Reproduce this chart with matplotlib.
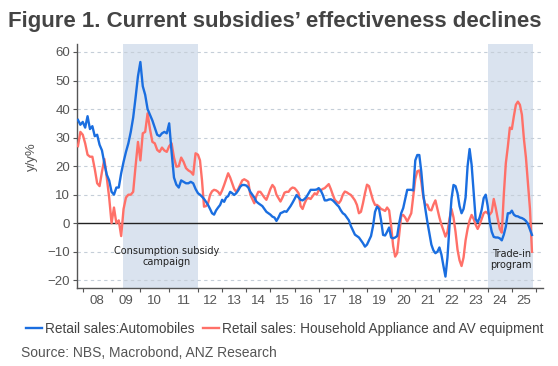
import matplotlib
matplotlib.use('Agg')
import matplotlib.pyplot as plt
import numpy as np
import pandas as pd

# monthly y/y %, Nov 2007 .. Nov 2025
auto_yoy = (
    [36.2, 34.5]
    + [35.5, 33.5, 37.5, 33, 34, 30.5, 31, 27.5, 25.5, 21, 17, 15]          # 2008
    + [11, 10, 12.5, 12.5, 17.5, 21.5, 25, 28, 32, 37, 44, 51.5]            # 2009
    + [56.5, 48, 45, 40, 38, 36, 33.5, 31, 30.5, 31.5, 32, 31.5]            # 2010
    + [35, 25, 16, 13.5, 12.5, 15, 14.5, 14, 14, 14.5, 14, 12]              # 2011
    + [10.5, 10, 9.3, 8.5, 7.5, 6.4, 5, 3.5, 3, 4.5, 5.5, 6.4]              # 2012
    + [8.2, 7.5, 9, 9.5, 11, 10.5, 9.9, 10.5, 11.5, 12.8, 13.4, 13.4]       # 2013
    + [13.2, 12.5, 11, 10, 9, 7.6, 7, 6.5, 6, 5, 4, 3.5]                    # 2014
    + [3, 2.3, 2, 0.8, 2, 3.5, 3.8, 4.2, 4, 5, 6, 7.2]                      # 2015
    + [8.5, 9.9, 9, 8.2, 8, 8.5, 9.3, 10.5, 11.7, 11.7, 11.7, 11.8]         # 2016
    + [12.3, 11.5, 10, 8, 8, 8.3, 8.4, 8, 7.3, 6.5, 5.8, 4.5]               # 2017
    + [3.5, 3, 2, 1, -1, -2.5, -4, -4.5, -5, -6, -7, -8.2]                  # 2018
    + [-7.5, -6, -4.5, -1, 4, 5.8, 5, 1, -4.1, -4.3, -3, -1.5]              # 2019
    + [-5, -5.3, -5, -4.5, 0, 3.5, 5.3, 8.5, 11.7, 11.7, 11.7, 11.5]        # 2020
    + [22, 23.9, 23.9, 18, 10, 5, 0.5, -3.5, -7.5, -9.5, -10.5, -10]        # 2021
    + [-8.5, -11, -15, -18.7, -12, -1, 8.5, 13.4, 13, 10.5, 6, 3.5]         # 2022
    + [5, 9, 20, 26, 20.5, 11, 1.5, 0.3, 2, 4.7, 8.8, 10]                   # 2023
    + [6, 0.5, -3, -4.8, -5, -5, -5.3, -6, -4, -1.2, 3.5, 3.5]              # 2024
    + [4.4, 3, 2.5, 2.4, 2, 1.8, 1.4, 0.8, -0.3, -2.2, -4.1]                # 2025
)

appliance_yoy = (
    [27, 32]
    + [31, 28, 24, 23.3, 23.3, 19, 14, 13, 18, 22.5, 16, 9]                 # 2008
    + [0, 5.5, 0, 1, -4.5, 5, 9, 10, 10, 11, 20, 28.5]                      # 2009
    + [22, 31.5, 32, 38.5, 33, 28.5, 28, 25.7, 25, 26.5, 25.5, 25]          # 2010
    + [27, 28, 23, 19.8, 20, 23, 21.5, 19.3, 18.5, 18, 17, 24.5]            # 2011
    + [24, 22, 15, 5.8, 6, 7, 9.9, 11.2, 11.7, 11.5, 11, 10]                # 2012
    + [11.5, 13.4, 15.5, 17.5, 16, 14, 12, 11, 12, 13.5, 15, 15.4]          # 2013
    + [15, 14.5, 10, 8.5, 7, 9.5, 11, 11, 10, 9, 8.2, 10]                   # 2014
    + [12, 13.4, 12.5, 10, 8.8, 7.6, 9, 10.7, 11, 11, 12, 12.5]             # 2015
    + [12.3, 11.5, 10.5, 6, 5, 7, 8.5, 8.8, 8.5, 9.5, 10.5, 10]             # 2016
    + [11.5, 11.5, 12, 12.3, 13, 13.7, 12, 10, 8.2, 7.5, 7, 8]              # 2017
    + [10, 11.1, 10.8, 10.3, 9.9, 9, 8, 6.4, 3.5, 4, 7, 10.5]               # 2018
    + [13.5, 13, 10.5, 8, 6.4, 6.4, 5.8, 5, 4.7, 4.3, 5.5, 4.5]             # 2019
    + [-1, -8, -11.7, -10.5, -4, 2.5, 2.9, 2, 0.6, 2, 3.5, 9.5]             # 2020
    + [15.5, 18.2, 18.5, 14.5, 9, 6.5, 6.5, 4.7, 4.5, 6.5, 8, 5]            # 2021
    + [2, -0.5, -2.5, -4.7, -3, 1.5, 5, 2, -3, -9.3, -13, -15]              # 2022
    + [-12, -6, -2, 1, 2.9, 1.5, -0.5, -2, -0.5, 1.5, 3.5, 4]               # 2023
    + [3.5, 3, 4, 8.5, 5.3, 1.5, -2, -3.3, 10, 21, 26.8, 33.5]              # 2024
    + [33, 37.5, 41.5, 42.6, 41.5, 38, 29.5, 23, 14, 5, -10]                # 2025
)

dates = pd.date_range('2007-11-01', periods=len(auto_yoy), freq='MS')
t = dates.year + (dates.month - 1) / 12.0

year_ticks = list(range(2008, 2027))
year_labels = [f"{y % 100:02d}" for y in range(2008, 2026)]

# shaded policy windows (decimal years)
subsidy_span = (2009.4, 2012.0)
tradein_span = (2024.0, 2025.87)

BLUE = '#1a6ee0'
RED = '#ff7068'
GREY = '#555555'

# the source chart draws 2008-2011 wider than later years
K = 28.8 / 24.14


def fwd(x):
    x = np.asarray(x, dtype=float)
    return np.where(x < 2012, 2012 - (2012 - x) * K, x)


def inv(u):
    u = np.asarray(u, dtype=float)
    return np.where(u < 2012, 2012 - (2012 - u) / K, u)


plt.rcParams['font.family'] = ['Liberation Sans', 'DejaVu Sans']

fig = plt.figure(figsize=(5.58, 3.66), dpi=100)
ax = fig.add_axes([77 / 558, 1 - 288 / 366, (543 - 77) / 558, (288 - 44) / 366])
ax.set_xscale('function', functions=(fwd, inv))

ax.axvspan(*subsidy_span, color='#dae3ef', lw=0, zorder=0)
ax.axvspan(*tradein_span, color='#dae3ef', lw=0, zorder=0)

for v in range(-20, 70, 10):
    if v != 0:
        ax.axhline(v, color='#c5ced8', lw=0.8, ls=(0, (3, 3)), zorder=1)
ax.axhline(0, color='#222222', lw=1.0, zorder=2)

ax.plot(t, appliance_yoy, color=RED, lw=1.7, zorder=3,
        label='Retail sales: Household Appliance and AV equipment')
ax.plot(t, auto_yoy, color=BLUE, lw=1.7, zorder=4,
        label='Retail sales:Automobiles')

ax.set_xlim(2007.8, 2026.29)
ax.set_ylim(-22.7, 62.8)
ax.set_yticks(range(-20, 70, 10))

ax.set_xticks(year_ticks)
ax.set_xticklabels([])
ax.set_xticks([y + 0.5 for y in range(2008, 2026)], minor=True)
ax.set_xticklabels(year_labels, minor=True)
ax.tick_params(axis='x', which='major', length=3, width=0.8, color=GREY)
ax.tick_params(axis='x', which='minor', length=0, pad=5, labelsize=9.5, labelcolor=GREY)
ax.tick_params(axis='y', length=3, width=0.8, color=GREY, labelsize=9.5,
               labelcolor=GREY, pad=2)

for s in ['top', 'right']:
    ax.spines[s].set_visible(False)
for s in ['left', 'bottom']:
    ax.spines[s].set_color(GREY)
    ax.spines[s].set_linewidth(1.0)

ax.set_ylabel('y/y%', color=GREY, fontsize=9.5)
ax.yaxis.set_label_coords(-0.084, 0.537)

ax.text(2010.91, -11.7, 'Consumption subsidy\ncampaign', ha='center', va='center',
        fontsize=7, family='DejaVu Sans', color='#222222', linespacing=1.1)
ax.text(2024.97, -12.8, 'Trade-in\nprogram', ha='center', va='center',
        fontsize=7, family='DejaVu Sans', color='#222222', linespacing=1.1)

fig.text(8 / 558, 1 - 22 / 366, 'Figure 1. Current subsidies\u2019 effectiveness declines',
         fontsize=16, fontweight='bold', color='#444444', va='center', ha='left')

handles, labels = ax.get_legend_handles_labels()
fig.legend(handles[::-1], labels[::-1], loc='center left',
           bbox_to_anchor=(26 / 558, 1 - 329 / 366), ncol=2, frameon=False,
           fontsize=9.8, labelcolor='#444444', handlelength=1.2, handletextpad=0.2,
           columnspacing=0.6, borderaxespad=0, borderpad=0)

fig.text(21 / 558, 1 - 353 / 366, 'Source: NBS, Macrobond, ANZ Research',
         fontsize=10, color=GREY, va='center', ha='left')

fig.savefig('out.png', dpi=100, facecolor='white')
